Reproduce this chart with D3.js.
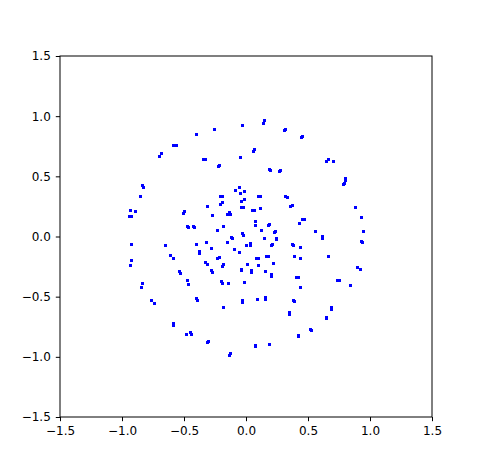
<!DOCTYPE html>
<html>
<head>
<meta charset="utf-8">
<script src="https://cdn.jsdelivr.net/npm/d3@7"></script>
<style>
  body { margin: 0; background: white; }
  .tick text { font-family: "DejaVu Sans", sans-serif; font-size: 12px; fill: black; }
</style>
</head>
<body>
<div id="chart"></div>
<script>
// scatter points (two rings)
let xs = [
  -0.030, -0.256, -0.401, -0.586, -0.559, -0.680, -0.694, -0.339, -0.323, -0.046,
  -0.210, -0.218, -0.836, -0.828, -0.054, -0.086, -0.014, -0.046, -0.207, -0.191,
  -0.849, -0.014, -0.040, -0.191, -0.207, -0.312, -0.040, -0.024, -0.933, -0.893,
  -0.938, -0.922, -0.492, -0.506, -0.272, -0.137, -0.153, -0.121, -0.470, -0.462,
  -0.425, -0.417, -0.183, -0.231, -0.030, -0.022, -0.119, -0.111,
  0.148, 0.140, 0.317, 0.309, 0.454, 0.446, 0.067, 0.059, 0.664, 0.648,
  0.702, 0.188, 0.196, 0.277, 0.269, 0.801, 0.801, 0.793, 0.785, 0.099,
  0.115, 0.317, 0.333, 0.051, 0.067, 0.115, 0.377, 0.357, 0.881, 0.930,
  0.457, 0.473, 0.078, 0.078, 0.188, 0.180, 0.430, 0.121, 0.236, 0.228,
  0.559, 0.944, 0.148, 0.248, 0.242, 0.615, 0.615,
  -0.927, -0.653, -0.403, -0.315, -0.151, 0.000, -0.280, -0.089, -0.056, -0.377,
  -0.377, -0.925, -0.933, -0.610, -0.586, -0.215, -0.226, -0.328, -0.312, -0.183,
  -0.191, 0.010, -0.538, -0.530, -0.280, -0.272, -0.038, -0.038, -0.473, -0.465,
  -0.199, -0.191, -0.143, -0.014, -0.836, -0.844, -0.764, -0.740, -0.401, -0.393,
  -0.030, -0.030, -0.183, -0.586, -0.586, -0.481, -0.449, -0.441, -0.304, -0.312,
  -0.127, -0.135,
  0.930, 0.938, 0.035, 0.035, 0.212, 0.204, 0.373, 0.381, 0.438, 0.083,
  0.099, 0.169, 0.185, 0.390, 0.438, 0.664, 0.099, 0.220, 0.043, 0.043,
  0.156, 0.204, 0.204, 0.409, 0.425, 0.898, 0.922, 0.736, 0.752, 0.841,
  0.438, 0.091, 0.156, 0.156, 0.381, 0.390, 0.688, 0.688, 0.349, 0.349,
  0.648, 0.648, 0.519, 0.527, 0.422, 0.422, 0.075, 0.075, 0.188
];
let ys = [
  0.926, 0.889, 0.848, 0.760, 0.754, 0.690, 0.665, 0.643, 0.643, 0.654,
  0.588, 0.582, 0.427, 0.411, 0.411, 0.386, 0.377, 0.357, 0.336, 0.336,
  0.330, 0.311, 0.294, 0.286, 0.269, 0.249, 0.244, 0.244, 0.219, 0.211,
  0.170, 0.170, 0.211, 0.195, 0.178, 0.197, 0.180, 0.180, 0.086, 0.078,
  0.086, 0.078, 0.083, 0.050, 0.028, 0.012, -0.005, -0.013,
  0.968, 0.943, 0.893, 0.881, 0.835, 0.823, 0.727, 0.710, 0.643, 0.627,
  0.627, 0.560, 0.552, 0.552, 0.544, 0.482, 0.467, 0.438, 0.436, 0.336,
  0.336, 0.336, 0.328, 0.219, 0.219, 0.236, 0.261, 0.249, 0.244, 0.161,
  0.145, 0.145, 0.128, 0.095, 0.103, 0.091, 0.111, 0.053, 0.045, 0.037,
  0.045, 0.045, -0.017, -0.017, -0.025, 0.003, -0.013,
  -0.063, -0.071, -0.063, -0.047, -0.047, -0.071, -0.096, -0.105, -0.130, -0.121,
  -0.138, -0.196, -0.238, -0.155, -0.180, -0.171, -0.180, -0.213, -0.229, -0.229,
  -0.246, -0.229, -0.288, -0.304, -0.279, -0.296, -0.273, -0.285, -0.362, -0.396,
  -0.371, -0.387, -0.387, -0.379, -0.387, -0.421, -0.535, -0.554, -0.512, -0.529,
  -0.535, -0.547, -0.590, -0.726, -0.738, -0.811, -0.795, -0.811, -0.870, -0.878,
  -0.969, -0.986,
  -0.038, -0.050, -0.055, -0.071, -0.063, -0.071, -0.063, -0.071, -0.088, -0.180,
  -0.180, -0.163, -0.163, -0.163, -0.180, -0.163, -0.238, -0.221, -0.285, -0.298,
  -0.288, -0.318, -0.331, -0.338, -0.338, -0.254, -0.271, -0.362, -0.362, -0.404,
  -0.421, -0.520, -0.510, -0.522, -0.529, -0.537, -0.593, -0.605, -0.634, -0.647,
  -0.670, -0.683, -0.770, -0.778, -0.821, -0.834, -0.903, -0.915, -0.894
];
let ticks = [-1.5, -1.0, -0.5, 0.0, 0.5, 1.0, 1.5];

function makeGraph() {
  let w = 480, h = 468;
  let left = 60, right = 432, top = 56, bottom = 417;

  let svg = d3.select("#chart")
              .append("svg")
              .attr("width", w)
              .attr("height", h);

  let x = d3.scaleLinear().domain([-1.5, 1.5]).range([left, right]);
  let y = d3.scaleLinear().domain([-1.5, 1.5]).range([bottom, top]);

  let points = xs.map((v, i) => ({x: v, y: ys[i]}));

  // small square markers, snapped to whole pixels so they stay crisp
  svg.append("g")
     .attr("shape-rendering", "crispEdges")
     .selectAll("rect")
     .data(points)
     .enter()
     .append("rect")
     .attr("x", d => Math.round(x(d.x) - 1.5))
     .attr("y", d => Math.round(y(d.y) - 1.5))
     .attr("width", 3)
     .attr("height", 3)
     .attr("fill", "#0000ff");

  let fmt = d3.format(".1f");

  let xAxis = svg.append("g")
     .attr("transform", `translate(0, ${bottom})`)
     .call(d3.axisBottom(x).tickValues(ticks).tickFormat(fmt).tickSize(4.2).tickPadding(5.5));
  let yAxis = svg.append("g")
     .attr("transform", `translate(${left}, 0)`)
     .call(d3.axisLeft(y).tickValues(ticks).tickFormat(fmt).tickSize(4.2).tickPadding(5));

  [xAxis, yAxis].forEach(g => {
    g.select(".domain").remove();
    g.selectAll(".tick line").attr("stroke", "black").attr("stroke-width", 1);
  });

  // frame
  svg.append("rect")
     .attr("x", left)
     .attr("y", top)
     .attr("width", right - left)
     .attr("height", bottom - top)
     .attr("fill", "none")
     .attr("stroke", "black")
     .attr("stroke-width", 1);
}

window.onload = function() {
  makeGraph();
};
</script>
</body>
</html>
